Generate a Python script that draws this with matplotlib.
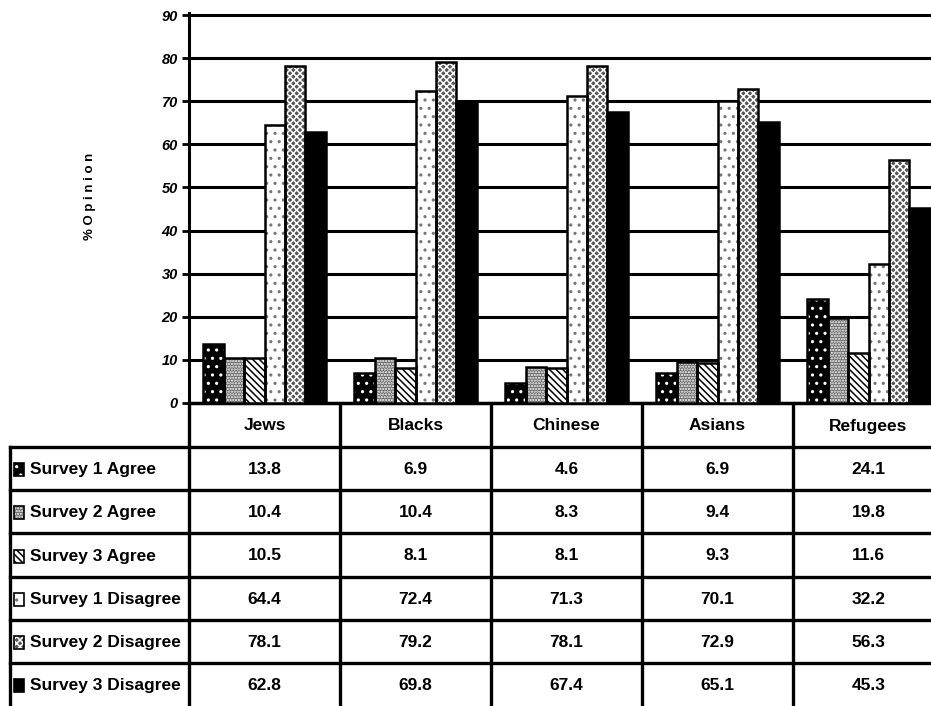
import matplotlib.pyplot as plt
import numpy as np
from matplotlib.patches import Rectangle

groups = ['Jews', 'Blacks', 'Chinese', 'Asians', 'Refugees']
series = ['Survey 1 Agree', 'Survey 2 Agree', 'Survey 3 Agree',
          'Survey 1 Disagree', 'Survey 2 Disagree', 'Survey 3 Disagree']

s1_agree = [13.8, 6.9, 4.6, 6.9, 24.1]
s2_agree = [10.4, 10.4, 8.3, 9.4, 19.8]
s3_agree = [10.5, 8.1, 8.1, 9.3, 11.6]
s1_disagree = [64.4, 72.4, 71.3, 70.1, 32.2]
s2_disagree = [78.1, 79.2, 78.1, 72.9, 56.3]
s3_disagree = [62.8, 69.8, 67.4, 65.1, 45.3]
values = [s1_agree, s2_agree, s3_agree, s1_disagree, s2_disagree, s3_disagree]

yticks = list(range(0, 100, 10))

# fill, hatch, hatch colour for each series
styles = [
    ('black', '..', 'white'),
    ('#666666', '......', 'white'),
    ('white', '\\\\\\\\\\', 'black'),
    ('white', '..', '#777777'),
    ('#555555', 'xxxxx', 'white'),
    ('black', None, 'black'),
]

plt.rcParams['font.family'] = ['Liberation Sans Narrow', 'Liberation Sans', 'DejaVu Sans']
plt.rcParams['font.weight'] = 'bold'
plt.rcParams['hatch.linewidth'] = 1.1

W, H = 931, 706
fig = plt.figure(figsize=(W / 100, H / 100), dpi=100)

# pixel layout
x0 = 189          # y axis
col_w = 151       # one category column
y_zero = 403      # baseline
row_h = 43.2
ppu = 388 / 90    # pixels per percent

top = 90.5
ax = fig.add_axes([x0 / W, 1 - y_zero / H, 5 * col_w / W, top * ppu / H])
ax.set_xlim(-0.5, 4.5)
ax.set_ylim(0, top)

bw = 0.135
x = np.arange(len(groups))
for i, (vals, (fc, hatch, hc)) in enumerate(zip(values, styles)):
    pos = x + (i - 2.5) * bw
    ax.bar(pos, vals, bw, color=fc, edgecolor=hc, hatch=hatch, linewidth=0, zorder=3)
    ax.bar(pos, vals, bw, fill=False, edgecolor='black', linewidth=1.8, zorder=4)

ax.set_yticks(yticks)
ax.set_yticklabels([str(t) for t in yticks], fontsize=10.5, fontstyle='italic', fontweight='bold')
ax.set_xticks([])
ax.yaxis.grid(True, color='black', linewidth=2.2)
ax.set_axisbelow(True)
ax.tick_params(axis='y', length=5, width=2, pad=3)
for s in ['top', 'right']:
    ax.spines[s].set_visible(False)
ax.spines['left'].set_linewidth(2.2)
ax.spines['bottom'].set_linewidth(2.5)

fig.text(90 / W, 1 - 196 / H, '% O p i n i o n', rotation=90, fontsize=9.5,
         fontweight='bold', ha='center', va='center')

# data table under the bars, in pixel coordinates
tx = fig.add_axes([0, 0, (x0 + 5 * col_w) / W, (H - y_zero) / H])
tx.set_xlim(0, x0 + 5 * col_w)
tx.set_ylim(H, y_zero)
tx.axis('off')

lw = 2.4
hdr_bottom = y_zero + 44
for k in range(6):
    yy = hdr_bottom + k * row_h
    tx.plot([10, x0 + 5 * col_w], [yy, yy], color='black', lw=lw, clip_on=False)
tx.plot([10, 10], [hdr_bottom, H], color='black', lw=lw)
for j in range(5):
    xx = x0 + j * col_w
    tx.plot([xx, xx], [y_zero, H], color='black', lw=lw)

for j, g in enumerate(groups):
    tx.text(x0 + (j + 0.5) * col_w, (y_zero + hdr_bottom) / 2 + 1, g,
            ha='center', va='center', fontsize=12.5, fontweight='bold')

for i, (name, vals, (fc, hatch, hc)) in enumerate(zip(series, values, styles)):
    yc = hdr_bottom + (i + 0.5) * row_h + 1
    tx.add_patch(Rectangle((14, yc - 6.5), 10, 13, facecolor=fc, edgecolor=hc,
                           hatch=hatch, linewidth=0))
    tx.add_patch(Rectangle((14, yc - 6.5), 10, 13, fill=False, edgecolor='black',
                           linewidth=1.2))
    tx.text(30, yc, name, ha='left', va='center', fontsize=12.5, fontweight='bold')
    for j, v in enumerate(vals):
        tx.text(x0 + (j + 0.5) * col_w, yc, f'{v:.1f}', ha='center', va='center',
                fontsize=12.5, fontweight='bold')

fig.savefig('out.png', dpi=100)
